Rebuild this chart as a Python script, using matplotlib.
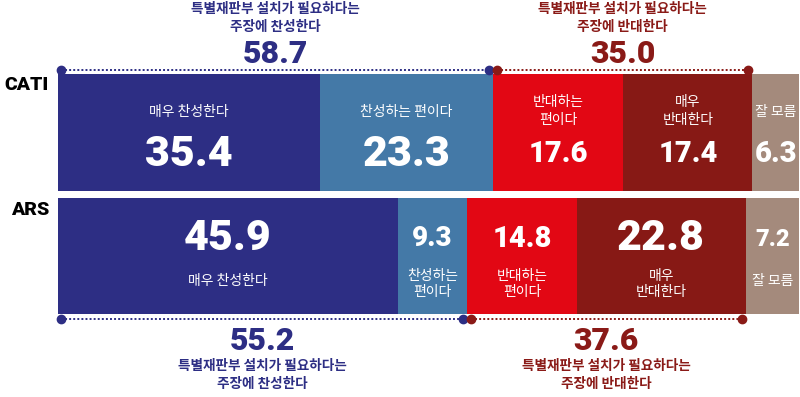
import matplotlib
matplotlib.use('Agg')
import matplotlib.pyplot as plt
import numpy as np

plt.rcParams['font.family'] = ['Noto Sans CJK KR', 'DejaVu Sans']

# data
methods = ['CATI', 'ARS']
cati_values = [35.4, 23.3, 17.6, 17.4, 6.3]
ars_values = [45.9, 9.3, 14.8, 22.8, 7.2]
cati_labels = ['매우 찬성한다', '찬성하는 편이다', '반대하는\n편이다', '매우\n반대한다', '잘 모름']
ars_labels = ['매우 찬성한다', '찬성하는\n편이다', '반대하는\n편이다', '매우\n반대한다', '잘 모름']
agree_totals = [58.7, 55.2]
disagree_totals = [35.0, 37.6]
agree_text = '특별재판부 설치가 필요하다는\n주장에 찬성한다'
disagree_text = '특별재판부 설치가 필요하다는\n주장에 반대한다'

colors = ['#2d2e84', '#4479a7', '#e20714', '#871915', '#a48a7c']
blue_txt = '#2d2e84'
red_txt = '#8a1a17'
num_font = ['Roboto', 'DejaVu Sans']

fig = plt.figure(figsize=(8, 3.97), dpi=100)
# axes: x in percent, y in pixels from top
ax = fig.add_axes([58/800, 0, 741/800, 1])
ax.set_xlim(0, 100)
ax.set_ylim(397, 0)
ax.axis('off')

bar_y = [132, 256]
bar_h = [117, 116]

cati_sizes = [31, 31, 21, 21, 21]
ars_sizes = [31, 20, 21, 31, 17]

for row, (vals, labels, sizes) in enumerate([(cati_values, cati_labels, cati_sizes),
                                             (ars_values, ars_labels, ars_sizes)]):
    lefts = np.concatenate([[0], np.cumsum(vals)[:-1]])
    ax.barh(bar_y[row], vals, left=lefts, height=bar_h[row], color=colors,
            edgecolor='none')
    for v, l, lab, fs in zip(vals, lefts, labels, sizes):
        xc = l + v / 2
        if row == 0:
            lab_y = 111 if '\n' in lab else 112
            num_y = 154
        else:
            lab_y = 284 if '\n' in lab else 281
            num_y = 239
        ax.text(xc, lab_y, lab, color='white', fontsize=10, fontweight='medium',
                ha='center', va='center', linespacing=1.35 if row == 0 else 1.15)
        ax.text(xc, num_y, f'{v:.1f}', color='white', fontsize=fs,
                family=num_font, fontweight='black', ha='center', va='center')

# method labels
ax.text(-1.2, 85, methods[0], fontsize=14, family=num_font, fontweight='black',
        ha='right', va='center')
ax.text(-1.2, 210, methods[1], fontsize=14, family=num_font, fontweight='black',
        ha='right', va='center')

# group brackets (dotted lines with end dots)
line_y = [70, 319]
for row in range(2):
    a = agree_totals[row]
    d = disagree_totals[row]
    y = line_y[row]
    ax.plot([0.4, a - 0.55], [y, y], color=blue_txt, lw=1.4, ls=(0, (1, 1.1)),
            marker='o', markersize=6, markevery=[0, 1], clip_on=False)
    ax.plot([a + 0.55, a + d - 0.55], [y, y], color=red_txt, lw=1.4,
            ls=(0, (1, 1.1)), marker='o', markersize=6, markevery=[0, 1],
            clip_on=False)

# top annotations (CATI)
a, d = agree_totals[0], disagree_totals[0]
ax.text(a / 2, 18, agree_text, color=blue_txt, fontsize=9.8, fontweight='bold',
        ha='center', va='center', linespacing=1.3)
ax.text(a / 2, 54, f'{a:.1f}', color=blue_txt, fontsize=23, family=num_font,
        fontweight='black', ha='center', va='center')
ax.text(a + d / 2, 18, disagree_text, color=red_txt, fontsize=9.8, fontweight='bold',
        ha='center', va='center', linespacing=1.3)
ax.text(a + d / 2, 54, f'{d:.1f}', color=red_txt, fontsize=23, family=num_font,
        fontweight='black', ha='center', va='center')

# bottom annotations (ARS)
a, d = agree_totals[1], disagree_totals[1]
ax.text(a / 2, 341, f'{a:.1f}', color=blue_txt, fontsize=23, family=num_font,
        fontweight='black', ha='center', va='center')
ax.text(a / 2, 375, agree_text, color=blue_txt, fontsize=9.8, fontweight='bold',
        ha='center', va='center', linespacing=1.3)
ax.text(a + d / 2, 341, f'{d:.1f}', color=red_txt, fontsize=23, family=num_font,
        fontweight='black', ha='center', va='center')
ax.text(a + d / 2, 375, disagree_text, color=red_txt, fontsize=9.8, fontweight='bold',
        ha='center', va='center', linespacing=1.3)

fig.savefig('out.png', dpi=100)
